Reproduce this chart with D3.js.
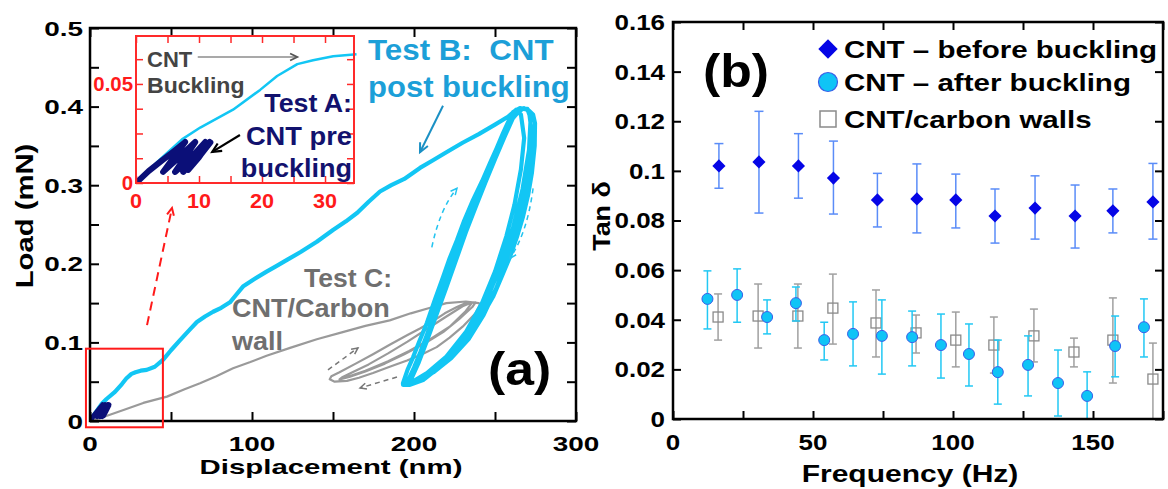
<!DOCTYPE html>
<html>
<head>
<meta charset="utf-8">
<script src="https://cdn.jsdelivr.net/npm/d3@7"></script>
<style>
  body { margin: 0; background: #fff; }
  svg { display: block; }
  text { font-family: "Liberation Sans", Arial, sans-serif; font-weight: bold; }
</style>
</head>
<body>
<svg width="1168" height="489"></svg>
<script>
// ---- panel (a): load vs displacement, [nm, mN] ----
const testB = [
  [0,0],[3.5,0.011],[7.3,0.022],[10.2,0.028],[15.4,0.037],[19.7,0.047],[22.4,0.054],[25.6,0.060],
  [28.1,0.062],[31.3,0.064],[35,0.065],[40,0.069],[45.2,0.078],[50,0.09],[55.6,0.103],[61,0.115],
  [66,0.126],[71,0.133],[76,0.139],[81,0.144],[86.4,0.151],[90,0.16],[94.4,0.171],[101,0.18],
  [109,0.19],[115,0.197],[121.6,0.205],[130,0.215],[140,0.228],[150,0.243],[158,0.254],[165,0.265],
  [172,0.279],[179,0.292],[186,0.3],[194,0.308],[203.7,0.322],[212,0.332],[220,0.342],[230,0.354],
  [240,0.365],[250,0.377],[258,0.387],[263,0.396],
  // cycle 1
  [266,0.39],[268,0.36],[266,0.32],[262,0.275],[257,0.235],[250,0.19],[242,0.15],[232,0.113],
  [220,0.082],[208,0.061],[199,0.05],[194,0.047],
  // cycle 2
  [193.2,0.048],[196,0.065],[199.4,0.081],[203,0.1],[208,0.125],[213,0.155],[217.9,0.183],[222,0.207],
  [226.5,0.23],[231,0.255],[236.4,0.281],[242,0.305],[246.9,0.328],[251,0.347],[254.9,0.366],[258,0.38],
  [261.1,0.393],[265.4,0.398],[270.4,0.396],[273.5,0.39],[274.7,0.379],[274.5,0.35],[272.8,0.316],
  [270.5,0.288],[267.3,0.26],[263.5,0.234],[259.3,0.209],[254,0.183],[248.8,0.158],[243,0.137],
  [236.4,0.116],[229,0.096],[220.4,0.078],[213,0.064],[205.6,0.052],[197.5,0.046],[193.2,0.046],
  // cycle 3
  [196,0.05],[200,0.068],[204,0.088],[209,0.115],[214,0.145],[219,0.175],[224,0.205],[229,0.232],
  [235,0.265],[241,0.297],[247,0.326],[253,0.355],[258,0.377],[263,0.392],[268,0.398],[271,0.394],
  [272.5,0.37],[271.5,0.33],[268.5,0.29],[264,0.25],[258,0.21],[251,0.17],[243,0.135],[234,0.105],
  [223,0.08],[212,0.062],[202,0.05],[196,0.047],
  // cycle 4
  [198,0.052],[203,0.075],[208,0.102],[214,0.136],[220,0.17],[226,0.205],[232,0.24],[238,0.272],
  [244,0.303],[250,0.333],[256,0.362],[261,0.385],[266,0.397],[270,0.397],[272,0.385],[271,0.345],
  [267,0.295],[261,0.245],[253,0.195],[244,0.15],[233,0.112],[220,0.08],[208,0.06],[199,0.049],[195,0.047]
];

const testC = [
  [0,0],[5,0.003],[12.3,0.008],[22,0.015],[32.9,0.023],[47.5,0.031],[58,0.04],[67.9,0.048],
  [78,0.057],[88.3,0.067],[99,0.075],[109,0.083],[123.5,0.093],[140,0.104],[156,0.113],[170,0.121],
  [185,0.128],[198,0.137],[210,0.144],[220,0.15],[232,0.152],[240,0.15],
  [240.7,0.148],[238,0.137],[230,0.12],[222,0.106],[214,0.094],[205,0.085],[195.7,0.077],[185,0.069],
  [174.7,0.061],[166,0.055],[158.6,0.051],[151,0.05],[148,0.053],
  [149,0.057],[154,0.062],[164,0.073],[174.7,0.085],[185,0.097],[195.7,0.109],[204,0.118],
  [211.7,0.127],[219,0.137],[226.5,0.145],[232,0.15],[238,0.151],
  [236,0.145],[228,0.13],[218,0.113],[206,0.098],[194,0.085],[182,0.073],[170,0.063],[160,0.056],
  [154,0.053],[156,0.056],
  [162,0.062],[172,0.072],[184,0.086],[196,0.101],[208,0.117],[220,0.133],[230,0.146],[236,0.151],
  [232,0.14],[222,0.12],[210,0.104],[197,0.089],[184,0.076],[170,0.064],[160,0.057],[156,0.056]
];

const testA = [
  [0,0],[2,0.006],[4,0.011],[6,0.016],[7.8,0.0207],[6,0.013],[4.3,0.0056],[6.5,0.012],[9.4,0.0207],
  [7.8,0.013],[6.2,0.0056],[8.5,0.012],[11,0.0207],[9.2,0.013],[7.5,0.0056],[9.6,0.013],[11.7,0.0207],
  [10,0.013],[8.3,0.0066],[10.2,0.014],[11.8,0.0205]
];

const xTicksA = [0, 100, 200, 300];
const yTicksA = [0, 0.1, 0.2, 0.3, 0.4, 0.5];
const xTicksInset = [0, 10, 20, 30];
const yTicksInset = [0, 0.05];

// ---- panel (b): tan delta vs frequency ----
const freqBefore = [16.4,30.7,44.8,57.3,73,87.1,101,115,129.3,143.6,157.1,171.4];
const tanBefore  = [0.102,0.1036,0.102,0.0971,0.0883,0.0887,0.0883,0.0818,0.085,0.0818,0.0839,0.0875];
const beforeHi   = [0.111,0.124,0.115,0.112,0.099,0.1028,0.0987,0.0927,0.098,0.0943,0.0927,0.103];
const beforeLo   = [0.093,0.083,0.089,0.0826,0.0774,0.075,0.077,0.0709,0.0725,0.0689,0.075,0.0725];

const freqAfter = [12.3,22.9,33.6,43.9,54,64.3,74.6,85.4,95.7,105.7,116,126.8,137.5,147.9,157.9,168.2];
const tanAfter  = [0.0484,0.05,0.0411,0.0467,0.0318,0.0343,0.0335,0.033,0.0298,0.0262,0.0189,0.0218,0.0145,0.0093,0.0294,0.037];
const afterHi   = [0.0597,0.0605,0.048,0.0532,0.039,0.0472,0.048,0.0435,0.0423,0.0383,0.0318,0.0335,0.0278,0.019,0.0415,0.0484];
const afterLo   = [0.0363,0.039,0.0343,0.0395,0.0238,0.0214,0.0181,0.0214,0.0165,0.0133,0.006,0.0093,0.0012,0,0.017,0.025];

const freqWalls = [16.1,30.4,44.6,57.1,72.5,86.8,101,114.6,128.9,143.2,157.1,171.4];
const tanWalls  = [0.0411,0.0415,0.0415,0.0447,0.0387,0.0347,0.0318,0.0298,0.0335,0.027,0.0318,0.0161];
const wallsHi   = [0.0504,0.0544,0.0544,0.0584,0.052,0.0419,0.0431,0.0411,0.0443,0.0326,0.0488,0.0306];
const wallsLo   = [0.0318,0.0286,0.0286,0.0302,0.025,0.0266,0.021,0.0185,0.023,0.021,0.0145,0];

const xTicksB = [0, 50, 100, 150];
const yTicksB = [0, 0.02, 0.04, 0.06, 0.08, 0.1, 0.12, 0.14, 0.16];
const legendLabels = ['CNT \u2013 before buckling', 'CNT \u2013 after buckling', 'CNT/carbon walls'];

const svg = d3.select('svg');

// text with a horizontal stretch, the source figure has wide lettering
const label = (g, x, y, str, o = {}) => {
  const t = g.append('text')
    .attr('transform', `translate(${x},${y})` + (o.rotate ? ` rotate(${o.rotate})` : '') + ` scale(${o.sx || 1},1)`)
    .attr('text-anchor', o.anchor || 'start')
    .attr('font-size', o.size || 20)
    .attr('fill', o.fill || '#000')
    .style('white-space', 'pre')
    .text(str);
  if (o.mid) t.attr('dy', '0.36em');
  return t;
};

const arrow = (g, p0, p1, o = {}) => {
  const col = o.color || '#000';
  const w = o.width || 2;
  const line = g.append('path')
    .attr('d', o.curve ? `M${p0[0]},${p0[1]} Q${o.curve[0]},${o.curve[1]} ${p1[0]},${p1[1]}` : `M${p0[0]},${p0[1]} L${p1[0]},${p1[1]}`)
    .attr('fill', 'none').attr('stroke', col).attr('stroke-width', w);
  if (o.dash) line.attr('stroke-dasharray', o.dash);
  const from = o.curve || p0;
  const a = Math.atan2(p1[1] - from[1], p1[0] - from[0]);
  const L = o.head || 9, s = 0.45;
  const h1 = [p1[0] - L * Math.cos(a - s), p1[1] - L * Math.sin(a - s)];
  const h2 = [p1[0] - L * Math.cos(a + s), p1[1] - L * Math.sin(a + s)];
  g.append('path')
    .attr('d', `M${h1[0]},${h1[1]} L${p1[0]},${p1[1]} L${h2[0]},${h2[1]}`)
    .attr('fill', 'none').attr('stroke', col).attr('stroke-width', o.headWidth || w)
    .attr('stroke-linejoin', 'miter');
};

const frame = (g, x, y, xt, yt, o = {}) => {
  const col = o.color || '#000';
  const len = o.len || 8;
  const [x0, x1] = x.range(), [y0, y1] = y.range();
  const axes = [
    [d3.axisBottom(x).tickValues(xt), `translate(0,${y0})`],
    [d3.axisTop(x).tickValues(xt), `translate(0,${y1})`],
    [d3.axisLeft(y).tickValues(yt), `translate(${x0},0)`],
    [d3.axisRight(y).tickValues(yt), `translate(${x1},0)`]
  ];
  axes.forEach(([ax, tr]) => {
    const a = g.append('g').attr('transform', tr)
      .call(ax.tickSize(-len).tickSizeOuter(0).tickFormat(''));
    a.select('.domain').remove();
    a.selectAll('line').attr('stroke', col).attr('stroke-width', o.tickWidth || 2);
  });
  g.append('rect')
    .attr('x', x0).attr('y', y1).attr('width', x1 - x0).attr('height', y0 - y1)
    .attr('fill', 'none').attr('stroke', col).attr('stroke-width', o.width || 2.5);
};

// ================= panel (a) =================
const xA = d3.scaleLinear().domain([0, 300]).range([90, 576]);
const yA = d3.scaleLinear().domain([0, 0.5]).range([421, 28]);
const gA = svg.append('g');

svg.append('clipPath').attr('id', 'clipA').append('rect')
  .attr('x', 90).attr('y', 28).attr('width', 486).attr('height', 393);

const lineA = d3.line().x(d => xA(d[0])).y(d => yA(d[1]));
const curves = gA.append('g').attr('clip-path', 'url(#clipA)');

curves.append('path').datum(testC).attr('d', lineA)
  .attr('fill', 'none').attr('stroke', '#9a9a9a').attr('stroke-width', 2.2).attr('stroke-linejoin', 'round');
curves.append('path').datum(testB).attr('d', lineA)
  .attr('fill', 'none').attr('stroke', '#12c6f4').attr('stroke-width', 4.2).attr('stroke-linejoin', 'round');
curves.append('path').datum(testA).attr('d', lineA)
  .attr('fill', 'none').attr('stroke', '#0b0f78').attr('stroke-width', 5).attr('stroke-linejoin', 'round');

frame(gA, xA, yA, d3.range(0, 301, 50), d3.range(0, 0.5001, 0.05), { len: 9, width: 2.5 });

xTicksA.forEach(v => label(gA, xA(v), 451, v, { size: 21, sx: 1.33, anchor: 'middle' }));
yTicksA.forEach(v => label(gA, 83, yA(v), v, { size: 21, sx: 1.33, anchor: 'end', mid: true }));

label(gA, 331, 474, 'Displacement (nm)', { size: 21, sx: 1.4, anchor: 'middle' });
label(gA, 33, 216, 'Load (mN)', { size: 24, sx: 1.22, anchor: 'middle', rotate: -90 });

// zoom box and pointer to inset
gA.append('rect')
  .attr('x', xA(-2.5)).attr('y', yA(0.092))
  .attr('width', xA(45) - xA(-2.5)).attr('height', yA(-0.008) - yA(0.092))
  .attr('fill', 'none').attr('stroke', '#ff1a1a').attr('stroke-width', 2);
arrow(gA, [xA(35.2), yA(0.122)], [xA(50.6), yA(0.271)], { color: '#ff1a1a', width: 2, dash: '9,6', head: 8 });

// loop direction hints
arrow(gA, [xA(211), yA(0.221)], [xA(226.5), yA(0.296)], { color: '#22c4f0', width: 1.5, dash: '5,4', head: 7, curve: [xA(216), yA(0.27)] });
arrow(gA, [xA(273.5), yA(0.296)], [xA(259.3), yA(0.207)], { color: '#22c4f0', width: 1.5, dash: '5,4', head: 7, curve: [xA(270), yA(0.24)] });
arrow(gA, [xA(146.9), yA(0.065)], [xA(165.4), yA(0.093)], { color: '#777', width: 1.5, dash: '5,4', head: 7 });
arrow(gA, [xA(189.5), yA(0.056)], [xA(166.7), yA(0.042)], { color: '#777', width: 1.5, dash: '5,4', head: 7 });

// annotations
label(gA, 368, 60, 'Test B:  CNT', { size: 29, sx: 1.08, fill: '#1c9fd8' });
label(gA, 368, 97, 'post buckling', { size: 29, sx: 1.07, fill: '#1c9fd8' });
arrow(gA, [xA(217.9), yA(0.401)], [xA(203.7), yA(0.342)], { color: '#1a90c4', width: 2, head: 10 });

label(gA, 392, 287, 'Test C:', { size: 26, sx: 1.02, anchor: 'end', fill: '#6f6f6f' });
label(gA, 232, 317, 'CNT/Carbon', { size: 26, sx: 1.04, fill: '#6f6f6f' });
label(gA, 232, 350, 'wall', { size: 26, sx: 1.04, fill: '#6f6f6f' });

label(gA, 488, 385, '(a)', { size: 47, sx: 1.1 });

// ---- inset ----
const xI = d3.scaleLinear().domain([0, 34.6]).range([136, 354]);
const yI = d3.scaleLinear().domain([0, 0.0742]).range([183, 36]);
const gI = svg.append('g');
gI.append('rect').attr('x', 136).attr('y', 36).attr('width', 218).attr('height', 147).attr('fill', '#fff');
svg.append('clipPath').attr('id', 'clipI').append('rect')
  .attr('x', 136).attr('y', 36).attr('width', 222).attr('height', 147);
const lineI = d3.line().x(d => xI(d[0])).y(d => yI(d[1]));
const insetCurves = gI.append('g').attr('clip-path', 'url(#clipI)');
insetCurves.append('path').datum(testB.filter(d => d[0] <= 36 && d[1] < 0.07)).attr('d', lineI)
  .attr('fill', 'none').attr('stroke', '#12c6f4').attr('stroke-width', 2.5).attr('stroke-linejoin', 'round');
insetCurves.append('path').datum(testA).attr('d', lineI)
  .attr('fill', 'none').attr('stroke', '#0b0f78').attr('stroke-width', 6)
  .attr('stroke-linejoin', 'round').attr('stroke-linecap', 'round');

frame(gI, xI, yI, d3.range(0, 35, 5), d3.range(0, 0.0742, 0.0125), { color: '#ff2a2a', len: 7, width: 2, tickWidth: 1.5 });
xTicksInset.forEach(v => label(gI, xI(v), 208, v, { size: 20, sx: 1.08, anchor: 'middle', fill: '#ff1a1a' }));
yTicksInset.forEach(v => label(gI, 133, yI(v), v, { size: 20, sx: 1.02, anchor: 'end', mid: true, fill: '#ff1a1a' }));

label(gI, 147, 67, 'CNT', { size: 22, fill: '#444' });
label(gI, 147, 93, 'Buckling', { size: 22, sx: 1.05, fill: '#444' });
arrow(gI, [xI(9.8), yI(0.0636)], [xI(25.6), yI(0.0636)], { color: '#555', width: 1.2, head: 8, headWidth: 1.8 });

label(gI, 352, 112, 'Test A:', { size: 26, sx: 1.03, anchor: 'end', fill: '#12126e' });
label(gI, 352, 145, 'CNT pre', { size: 26, sx: 1.05, anchor: 'end', fill: '#12126e' });
label(gI, 352, 177, 'buckling', { size: 26, sx: 1.04, anchor: 'end', fill: '#12126e' });
arrow(gI, [xI(16.5), yI(0.0242)], [xI(12.1), yI(0.0157)], { color: '#000', width: 2.2, head: 10 });

// ================= panel (b) =================
const xB = d3.scaleLinear().domain([0, 175]).range([673, 1163]);
const yB = d3.scaleLinear().domain([0, 0.16]).range([419, 22]);
const gB = svg.append('g');

const errBars = (g, xs, ys, hi, lo, col, cap) => {
  const e = g.append('g').attr('stroke', col).attr('stroke-width', 1.5);
  xs.forEach((f, i) => {
    const x = xB(f), y1 = yB(hi[i]), y0 = yB(lo[i]);
    e.append('line').attr('x1', x).attr('x2', x).attr('y1', y1).attr('y2', y0);
    e.append('line').attr('x1', x - cap).attr('x2', x + cap).attr('y1', y1).attr('y2', y1);
    e.append('line').attr('x1', x - cap).attr('x2', x + cap).attr('y1', y0).attr('y2', y0);
  });
};

errBars(gB, freqWalls, tanWalls, wallsHi, wallsLo, '#a0a0a0', 4);
gB.append('g').selectAll('rect').data(freqWalls).join('rect')
  .attr('x', d => xB(d) - 5).attr('y', (d, i) => yB(tanWalls[i]) - 5)
  .attr('width', 10).attr('height', 10)
  .attr('fill', 'none').attr('stroke', '#8a8a8a').attr('stroke-width', 1.3);

errBars(gB, freqAfter, tanAfter, afterHi, afterLo, '#22c8f4', 4);
gB.append('g').selectAll('circle').data(freqAfter).join('circle')
  .attr('cx', d => xB(d)).attr('cy', (d, i) => yB(tanAfter[i])).attr('r', 5.5)
  .attr('fill', '#0fc4f6').attr('stroke', '#3a5ee8').attr('stroke-width', 1);

errBars(gB, freqBefore, tanBefore, beforeHi, beforeLo, '#5a8cf8', 4.5);
const diamond = d3.symbol().type(d3.symbolDiamond2);
gB.append('g').selectAll('path').data(freqBefore).join('path')
  .attr('transform', (d, i) => `translate(${xB(d)},${yB(tanBefore[i])})`)
  .attr('d', diamond.size(110))
  .attr('fill', '#0505e6');

frame(gB, xB, yB, d3.range(0, 176, 25), yTicksB, { len: 8, width: 2.5 });
xTicksB.forEach(v => label(gB, xB(v), 450, v, { size: 22, sx: 1.18, anchor: 'middle' }));
yTicksB.forEach(v => label(gB, 665, yB(v), v, { size: 22, sx: 1.18, anchor: 'end', mid: true }));

label(gB, 910, 482, 'Frequency (Hz)', { size: 24, sx: 1.25, anchor: 'middle' });
label(gB, 610, 216, 'Tan \u03b4', { size: 24, sx: 1.12, anchor: 'middle', rotate: -90 });

label(gB, 703, 87, '(b)', { size: 47, sx: 1.1 });

// legend
const legY = [49, 82, 119];
gB.append('path').attr('transform', `translate(828,${legY[0]})`)
  .attr('d', d3.symbol().type(d3.symbolDiamond2).size(240)).attr('fill', '#0505e6');
gB.append('circle').attr('cx', 828).attr('cy', legY[1]).attr('r', 9.5)
  .attr('fill', '#0fc4f6').attr('stroke', '#3a5ee8').attr('stroke-width', 1.2);
gB.append('rect').attr('x', 820).attr('y', legY[2] - 8).attr('width', 16).attr('height', 16)
  .attr('fill', 'none').attr('stroke', '#8a8a8a').attr('stroke-width', 1.5);
legendLabels.forEach((t, i) => label(gB, 844, legY[i], t, { size: 24, sx: 1.23, mid: true }));
</script>
</body>
</html>
